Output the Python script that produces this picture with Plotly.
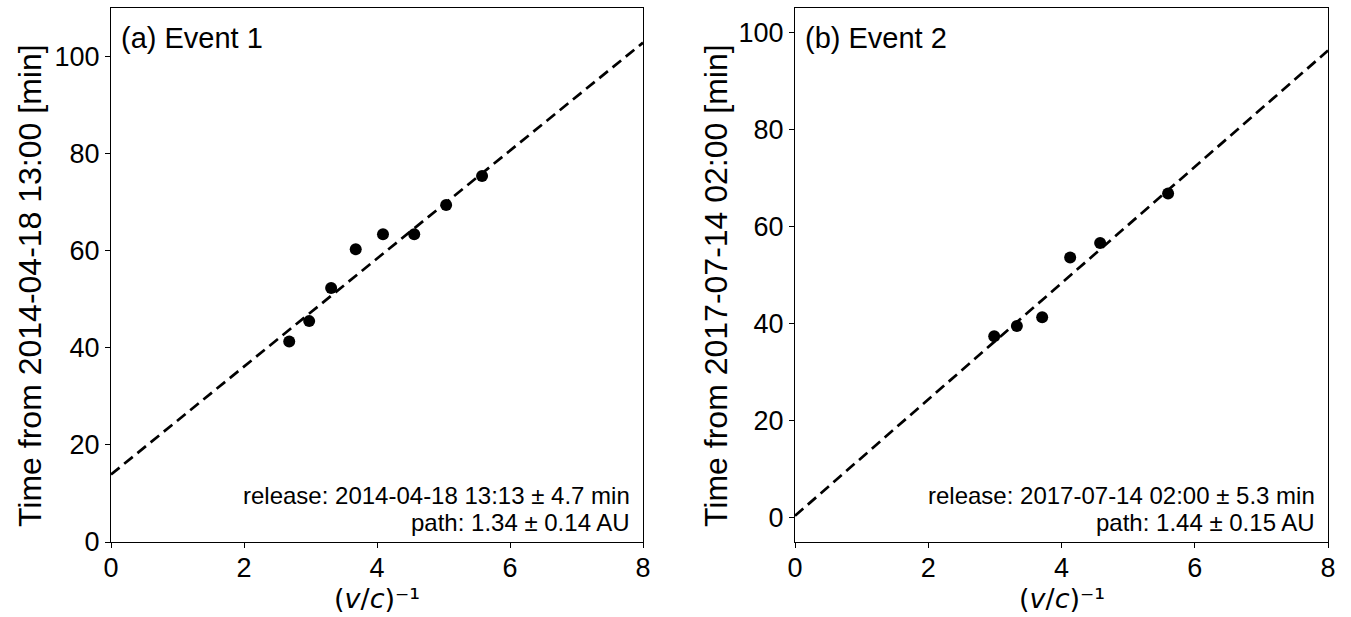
import plotly.graph_objects as go

# Event 1 data
x1 = [2.68, 2.98, 3.31, 3.68, 4.09, 4.56, 5.04, 5.58]
y1 = [41.3, 45.5, 52.3, 60.3, 63.4, 63.4, 69.4, 75.4]
# Event 2 data
x2 = [2.99, 3.33, 3.71, 4.13, 4.58, 5.60]
y2 = [37.4, 39.5, 41.3, 53.6, 56.6, 66.8]

# fit parameters (intercept [min], slope [min per unit])
fit1 = (13.9, 11.12)
fit2 = (0.4, 11.98)
fit_x = [0, 8]

ylabels = ["Time from 2014-04-18 13:00 [min]", "Time from 2017-07-14 02:00 [min]"]
xlabel = "(<i>v</i>/<i>c</i>)⁻¹"
panel_titles = ["(a) Event 1", "(b) Event 2"]
release_lines = ["release: 2014-04-18 13:13 ± 4.7 min", "release: 2017-07-14 02:00 ± 5.3 min"]
path_lines = ["path: 1.34 ± 0.14 AU", "path: 1.44 ± 0.15 AU"]
yranges = [[0, 110], [-5, 105]]

W, H = 1351, 617
fig = go.Figure()

font = "Liberation Sans, Arial, sans-serif"
px_left = [111, 795]
px_right = [643, 1328]
doms = [[px_left[i] / W, px_right[i] / W] for i in range(2)]
ydom = [(H - 542) / H, (H - 8) / H]

for i, (xs, ys, fit) in enumerate([(x1, y1, fit1), (x2, y2, fit2)]):
    xa = "x" if i == 0 else "x2"
    ya = "y" if i == 0 else "y2"
    fy = [fit[0] + fit[1] * v for v in fit_x]
    fig.add_trace(go.Scatter(x=fit_x, y=fy, mode="lines", xaxis=xa, yaxis=ya,
                             line=dict(color="black", width=2.7, dash="11px,6px"),
                             showlegend=False))
    fig.add_trace(go.Scatter(x=xs, y=ys, mode="markers", xaxis=xa, yaxis=ya,
                             marker=dict(color="black", size=12),
                             showlegend=False))

axis_common = dict(showgrid=False, zeroline=False, showline=True, linecolor="black",
                   linewidth=1.3, mirror=True, ticks="outside", ticklen=5, tickwidth=1.3,
                   tickcolor="black", automargin=False,
                   tickfont=dict(family=font, size=27, color="black"))

fig.update_layout(
    width=W, height=H, margin=dict(l=0, r=0, t=0, b=0),
    plot_bgcolor="white", paper_bgcolor="white",
    xaxis=dict(domain=doms[0], range=[0, 8], dtick=2, anchor="y", ticklabelstandoff=-4, **axis_common),
    yaxis=dict(domain=ydom, range=yranges[0], dtick=20, anchor="x", **axis_common),
    xaxis2=dict(domain=doms[1], range=[0, 8], dtick=2, anchor="y2", ticklabelstandoff=-4, **axis_common),
    yaxis2=dict(domain=ydom, range=yranges[1], dtick=20, anchor="x2", **axis_common),
)

ytitle_x = [30, 716]
for i in range(2):
    # y-axis title
    fig.add_annotation(x=ytitle_x[i] / W, y=1 - 286 / H, xref="paper", yref="paper",
                       text=ylabels[i], textangle=-90, showarrow=False,
                       xanchor="center", yanchor="middle",
                       font=dict(family=font, size=32, color="black"))
    # x-axis title
    cx = (px_left[i] + px_right[i]) / 2
    fig.add_annotation(x=cx / W, y=1 - 616 / H, xref="paper", yref="paper",
                       text=xlabel, showarrow=False,
                       xanchor="center", yanchor="bottom",
                       font=dict(family="DejaVu Sans, sans-serif", size=27, color="black"))
    # panel label
    fig.add_annotation(x=(px_left[i] + 8) / W, y=1 - 38 / H, xref="paper", yref="paper",
                       text=panel_titles[i], showarrow=False,
                       xanchor="left", yanchor="middle",
                       font=dict(family=font, size=29, color="black"))
    # fit result text
    fig.add_annotation(x=(px_right[i] - 11) / W, y=1 - 495 / H, xref="paper", yref="paper",
                       text=release_lines[i], showarrow=False,
                       xanchor="right", yanchor="middle",
                       font=dict(family=font, size=24, color="black"))
    fig.add_annotation(x=(px_right[i] - 11) / W, y=1 - 522 / H, xref="paper", yref="paper",
                       text=path_lines[i], showarrow=False,
                       xanchor="right", yanchor="middle",
                       font=dict(family=font, size=24, color="black"))

fig.write_html("out.html")
